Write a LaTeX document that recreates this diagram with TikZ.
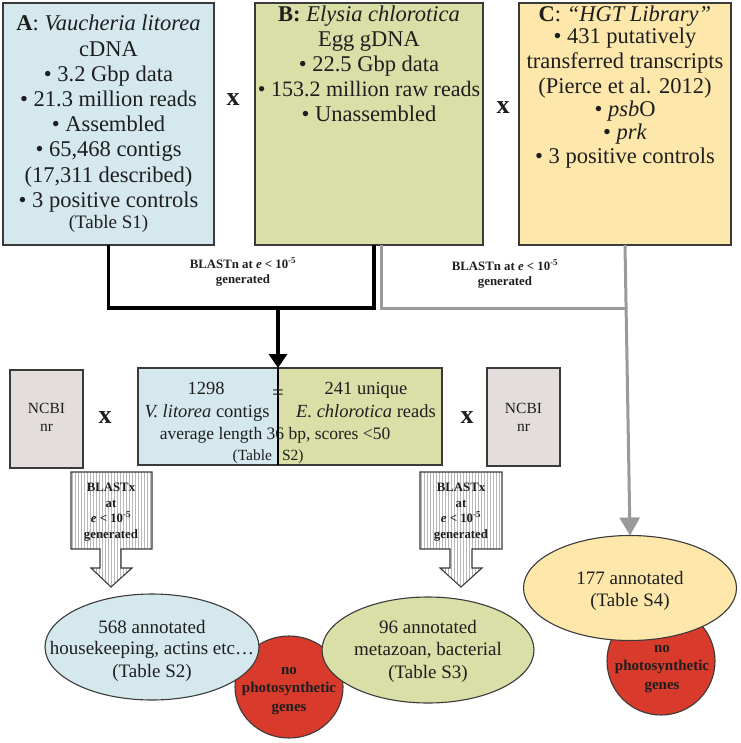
\documentclass[tikz,border=0pt]{standalone}
\usepackage{fontspec}
\setmainfont{Liberation Serif}
\usetikzlibrary{arrows.meta,shapes.geometric}

\definecolor{cA}{HTML}{D4E8EE}
\definecolor{cB}{HTML}{D9DFA7}
\definecolor{cC}{HTML}{FDE7AA}
\definecolor{cN}{HTML}{E3DEDB}
\definecolor{cR}{HTML}{D83A2B}
\definecolor{cE}{HTML}{3A3A3A}
\definecolor{cG}{HTML}{9A9A9A}
\definecolor{cT}{HTML}{1E1E1E}

\newcommand\fsz[2]{\fontsize{#1}{#2}\selectfont}
\def\pathL{(71,472) -- (152,472) -- (152,549) -- (121,549) -- (121,568) -- (132,568)
   -- (111,587) -- (91,568) -- (100,568) -- (100,549) -- (71,549) -- cycle}
\def\pathR{(420,472) -- (502,472) -- (502,549) -- (472,549) -- (472,568) -- (482,568)
   -- (461,587) -- (440,568) -- (450,568) -- (450,549) -- (420,549) -- cycle}

\begin{document}
\begin{tikzpicture}[x=1pt,y=-1pt,
  box/.style={draw=cE, line width=1.3pt, inner sep=0pt, outer sep=0pt},
  oval/.style={ellipse, draw=cE, line width=1.1pt, inner sep=0pt, outer sep=0pt},
  tx/.style={anchor=base, inner sep=0pt, outer sep=0pt, text=cT},
  fbig/.style={tx, font=\fsz{22.5}{25}},
  fmid/.style={tx, font=\fsz{18.5}{21}},
  fsml/.style={tx, font=\fsz{15.5}{18}},
  flab/.style={tx, font=\fsz{12.8}{14}\bfseries},
  fov/.style={tx, font=\fsz{19}{22}},
  fred/.style={tx, font=\fsz{15}{18}\bfseries},
  fx/.style={tx, font=\fsz{26}{28}\bfseries},
  blk/.style={draw=black, line width=3.2pt},
  gry/.style={draw=cG, line width=3pt},
  barrow/.style={draw=cE, line width=1.1pt},
  stripe/.style={draw=black!28, line width=0.5pt}
]
\path[use as bounding box] (0,0) rectangle (740,743);

% ---- top boxes
\node[box, fill=cA, minimum width=211pt, minimum height=242pt] (A) at (108.5,124) {};
\node[box, fill=cB, minimum width=228pt, minimum height=242pt] (B) at (369,124) {};
\node[box, fill=cC, minimum width=212pt, minimum height=242pt] (C) at (625,124) {};

\node[fbig] (a1) at (108.5,31) {\textbf{A}: \textit{Vaucheria litorea}};
\node[fbig] (a2) at (108.5,56.2) {cDNA};
\node[fbig] (a3) at (108.5,81.4) {• 3.2 Gbp data};
\node[fbig] (a4) at (108.5,106.6) {• 21.3 million reads};
\node[fbig] (a5) at (108.5,131.8) {• Assembled};
\node[fbig] (a6) at (108.5,157.0) {• 65,468 contigs};
\node[fbig] (a7) at (108.5,182.2) {(17,311 described)};
\node[fbig] (a8) at (108.5,207.4) {• 3 positive controls};
\node[tx, font=\fsz{19}{20}] (a9) at (108.5,228.5) {(Table S1)};

\node[fbig] (b1) at (369,21.5) {\textbf{B:} \textit{Elysia chlorotica}};
\node[fbig] (b2) at (369,46.5) {Egg gDNA};
\node[fbig] (b3) at (369,71.5) {• 22.5 Gbp data};
\node[tx, font=\fsz{22}{25}] (b4) at (369,96.5) {• 153.2 million raw reads};
\node[fbig] (b5) at (369,121.5) {• Unassembled};

\node[fbig] (c1) at (625,21.5) {\textbf{C}: \textit{“HGT Library”}};
\node[fbig] (c2) at (625,43.5) {• 431 putatively};
\node[fbig] (c3) at (625,68.5) {transferred transcripts};
\node[fbig] (c4) at (625,93.5) {(Pierce et al. 2012)};
\node[fbig] (c5) at (625,116.5) {• \textit{psb}O};
\node[fbig] (c6) at (625,139.5) {• \textit{prk}};
\node[fbig] (c7) at (625,163.5) {• 3 positive controls};

\node[fx] (x1) at (233,106) {x};
\node[fx] (x2) at (503,114) {x};

% ---- BLASTn labels
\node[flab] (l1) at (243,268) {BLASTn at \textit{e} < 10\textsuperscript{-5}};
\node[flab] (l2) at (243,283) {generated};
\node[flab] (r1) at (505,270) {BLASTn at \textit{e} < 10\textsuperscript{-5}};
\node[flab] (r2) at (505,285) {generated};

% ---- middle row
\node[box, fill=cA, minimum width=140pt, minimum height=97pt] (ML) at (208,416.5) {};
\node[box, fill=cB, minimum width=164pt, minimum height=97pt] (MR) at (360,416.5) {};
\node[box, fill=cN, minimum width=73pt, minimum height=98pt] (N1) at (46.5,419) {};
\node[box, fill=cN, minimum width=73pt, minimum height=98pt] (N2) at (523.5,417) {};

\node[fmid] (m1) at (206,394) {1298};
\node[fmid] (m2) at (207,417) {\textit{V. litorea} contigs};
\node[fmid] (m3) at (366,394) {241 unique};
\node[fmid] (m4) at (366,417) {\textit{E. chlorotica} reads};
\node[tx, font=\fsz{17.5}{18}] (m5) at (275,439.5) {average length 36 bp, scores <50};
\node[fsml, anchor=base east] (m6) at (272,460) {(Table};
\node[fsml, anchor=base west] (m7) at (282,460) {S2)};
\draw[line width=1.5pt, black] (ML.north east) -- (ML.south east);
\node[tx, font=\fsz{21}{22}] (eq) at (278,399) {=};

\node[fsml] (n1) at (46.5,413) {NCBI};
\node[fsml] (n2) at (46.5,431) {nr};
\node[fsml] (n3) at (523.5,413) {NCBI};
\node[fsml] (n4) at (523.5,431) {nr};

\node[fx] (x3) at (105,423) {x};
\node[fx] (x4) at (467,423) {x};

% ---- connectors
\coordinate (jB) at (374,308);
\coordinate (jM) at (278,308);
\coordinate (gB) at (381,308);
\coordinate (gC) at (625,308);
\draw[gry] (B.south -| gB) -- (gB) -- (gC);
\draw[blk] (A.south) |- (jB) -- (B.south -| jB);
\draw[blk, -{Triangle[width=18pt,length=14pt]}] (jM) -- (ML.north east);

% ---- block arrows (striped)
\begin{scope}
  \clip \pathL;
  \fill[white] (60,465) rectangle (165,595);
  \foreach \xx in {72.5,75.5,...,152} \draw[stripe] (\xx,468) -- (\xx,592);
\end{scope}
\draw[barrow] \pathL;
\begin{scope}
  \clip \pathR;
  \fill[white] (410,465) rectangle (515,595);
  \foreach \xx in {421.5,424.5,...,502} \draw[stripe] (\xx,468) -- (\xx,592);
\end{scope}
\draw[barrow] \pathR;
\node[flab] (ba1) at (111,491) {BLASTx};
\node[flab] (ba2) at (111,507) {at};
\node[flab] (ba3) at (111,522) {\textit{e} < 10\textsuperscript{-5}};
\node[flab] (ba4) at (111,538) {generated};
\node[flab] (bb1) at (461,491) {BLASTx};
\node[flab] (bb2) at (461,507) {at};
\node[flab] (bb3) at (461,522) {\textit{e} < 10\textsuperscript{-5}};
\node[flab] (bb4) at (461,538) {generated};

% ---- results
\node[oval, fill=cR, minimum width=108pt, minimum height=102pt] (R1) at (289,687) {};
\node[oval, fill=cR, minimum width=108pt, minimum height=108pt] (R2) at (661,661) {};
\node[oval, fill=cA, minimum width=214pt, minimum height=106pt] (E1) at (152,647) {};
\node[oval, fill=cB, minimum width=212pt, minimum height=106pt] (E2) at (428,650) {};
\node[oval, fill=cC, minimum width=213pt, minimum height=105pt] (E3) at (630,588) {};

\draw[gry, -{Triangle[width=20pt,length=18pt]}] (C.south) -- (E3.north);

\node[fov] (e11) at (152,633) {568 annotated};
\node[fov] (e12) at (152,654) {housekeeping, actins etc…};
\node[fov] (e13) at (152,677) {(Table S2)};
\node[fov] (e21) at (428,633) {96 annotated};
\node[fov] (e22) at (428,655) {metazoan, bacterial};
\node[fov] (e23) at (428,678) {(Table S3)};
\node[fov] (e31) at (630,584) {177 annotated};
\node[fov] (e32) at (630,606) {(Table S4)};

\node[fred] (r11) at (289,674) {no};
\node[fred] (r12) at (289,692.5) {photosynthetic};
\node[fred] (r13) at (289,711) {genes};
\node[fred] (r21) at (662,652) {no};
\node[fred] (r22) at (662,670.5) {photosynthetic};
\node[fred] (r23) at (662,689) {genes};
\end{tikzpicture}
\end{document}
